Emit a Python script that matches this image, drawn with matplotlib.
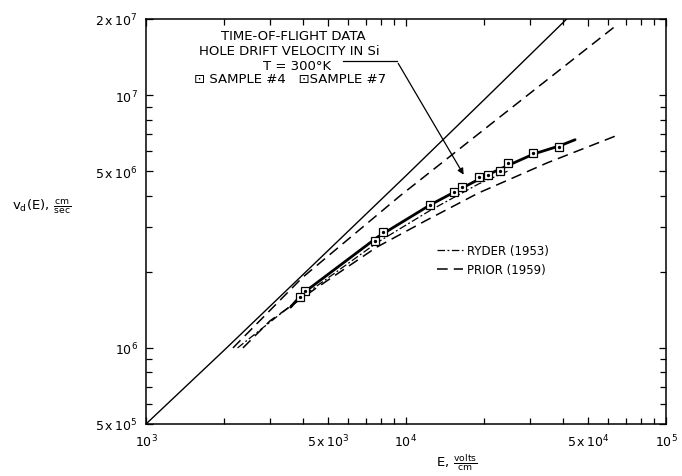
import matplotlib
matplotlib.use("Agg")
import matplotlib.pyplot as plt
from matplotlib.ticker import FixedLocator, NullFormatter, LogLocator

# ---------------- data ----------------
# ohmic (low-field) line
ohmic_E = [1.0e3, 2.0e3, 5.0e3, 1.0e4, 2.0e4, 4.15e4]
ohmic_v = [5.0e5, 0.98e6, 2.42e6, 4.8e6, 9.6e6, 2.0e7]

# upper dashed curve
upper_E = [2.16e3, 4.0e3, 9.5e3, 2.23e4, 6.37e4]
upper_v = [1.0e6, 1.9e6, 4.0e6, 8.0e6, 1.87e7]

# Prior (1959), lower dashed curve
prior_E = [2.36e3, 3.0e3, 4.5e3, 7.7e3, 1.2e4, 1.9e4, 3.5e4, 6.42e4]
prior_v = [1.0e6, 1.28e6, 1.72e6, 2.5e6, 3.2e6, 4.1e6, 5.4e6, 6.9e6]

# Ryder (1953), dash-dot curve
ryder_E = [2.25e3, 4.0e3, 7.7e3, 1.24e4, 1.9e4, 2.51e4]
ryder_v = [1.0e6, 1.6e6, 2.6e6, 3.5e6, 4.45e6, 5.05e6]

# time-of-flight fit line (thick)
fit_E = [3.6e3, 4.0e3, 7.8e3, 1.24e4, 1.65e4, 2.07e4, 2.5e4, 3.1e4, 3.9e4, 4.47e4]
fit_v = [1.45e6, 1.64e6, 2.75e6, 3.68e6, 4.3e6, 4.85e6, 5.3e6, 5.85e6, 6.3e6, 6.66e6]

# measured points
s4_E = [4.09e3, 8.18e3, 1.236e4, 1.53e4, 1.91e4, 2.475e4, 3.09e4]
s4_v = [1.683e6, 2.865e6, 3.68e6, 4.15e6, 4.74e6, 5.40e6, 5.90e6]
s7_E = [3.91e3, 7.60e3, 1.648e4, 2.07e4, 2.30e4, 3.87e4]
s7_v = [1.585e6, 2.64e6, 4.32e6, 4.84e6, 4.99e6, 6.22e6]

# annotation leader (from the caption to the data)
leader_E = [5.73e3, 9.22e3]
leader_v = [1.364e7, 1.364e7]
arrow_tip = (1.687e4, 4.74e6)

x_ticks = [1e3, 5e3, 1e4, 5e4, 1e5]
x_ticklabels = [r'$10^3$', r'$5\,\mathrm{x}\,10^3$', r'$10^4$', r'$5\,\mathrm{x}\,10^4$', r'$10^5$']
y_ticks = [5e5, 1e6, 5e6, 1e7, 2e7]
y_ticklabels = [r'$5\,\mathrm{x}\,10^5$', r'$10^6$', r'$5\,\mathrm{x}\,10^6$', r'$10^7$', r'$2\,\mathrm{x}\,10^7$']

caption = ["TIME-OF-FLIGHT DATA", "HOLE DRIFT VELOCITY IN Si", "T = 300\u00b0K",
           "\u22a1 SAMPLE #4   \u22a1SAMPLE #7"]

# ---------------- figure ----------------
W, H = 682, 477
fig = plt.figure(figsize=(W / 100, H / 100), dpi=100)
L, R, T, B = 146, 666, 20, 425
ax = fig.add_axes([L / W, 1 - B / H, (R - L) / W, (B - T) / H])
ax.set_xscale('log')
ax.set_yscale('log')
ax.set_xlim(1e3, 1e5)
ax.set_ylim(5e5, 2e7)

k = 'black'
ax.plot(ohmic_E, ohmic_v, color=k, lw=1.0)
ax.plot(upper_E, upper_v, color=k, lw=1.1, ls=(0, (7, 4)))
prior_line, = ax.plot(prior_E, prior_v, color=k, lw=1.1, ls=(0, (7, 4)))
ryder_line, = ax.plot(ryder_E, ryder_v, color=k, lw=0.9, ls=(0, (6, 2, 1.5, 2)))
ax.plot(fit_E, fit_v, color=k, lw=2.0, solid_capstyle='round')

for E, v in ((s4_E, s4_v), (s7_E, s7_v)):
    ax.plot(E, v, ls='none', marker='s', ms=6, mfc='white', mec=k, mew=0.9, zorder=5)
    ax.plot(E, v, ls='none', marker='o', ms=1.4, mfc=k, mec=k, zorder=6)

# leader line with arrow
ax.plot(leader_E, leader_v, color=k, lw=0.9)
ax.annotate('', xy=arrow_tip, xytext=(leader_E[-1], leader_v[-1]),
            arrowprops=dict(arrowstyle='-|>', color=k, lw=0.9, mutation_scale=9))

# caption text
cap_pos = [(0.283, 0.959), (0.275, 0.922), (0.290, 0.885), (0.277, 0.852)]
for txt, (xx, yy) in zip(caption, cap_pos):
    ax.text(xx, yy, txt, transform=ax.transAxes, ha='center', va='center',
            fontsize=9.5, color=k)

# legend
ax.legend([ryder_line, prior_line], ["RYDER (1953)", "PRIOR (1959)"],
          loc='upper left', bbox_to_anchor=(0.55, 0.455), frameon=False,
          fontsize=8.5, handlelength=2.2, handletextpad=0.4, labelspacing=0.45,
          borderaxespad=0)

# ticks
ax.xaxis.set_major_locator(FixedLocator(x_ticks))
ax.set_xticklabels(x_ticklabels)
ax.xaxis.set_minor_locator(LogLocator(base=10, subs=range(2, 10)))
ax.xaxis.set_minor_formatter(NullFormatter())
ax.yaxis.set_major_locator(FixedLocator(y_ticks))
ax.set_yticklabels(y_ticklabels)
ax.yaxis.set_minor_locator(LogLocator(base=10, subs=range(2, 10)))
ax.yaxis.set_minor_formatter(NullFormatter())
ax.tick_params(which='both', direction='in', top=True, right=True, width=0.9, color=k)
ax.tick_params(which='major', length=5, labelsize=9, pad=6)
ax.tick_params(which='minor', length=4)
for s in ax.spines.values():
    s.set_linewidth(1.1)

fig.text(12 / W, 1 - 207 / H, r'$\mathrm{v_d(E)},\,\frac{\mathrm{cm}}{\mathrm{sec}}$', fontsize=9.5,
         ha='left', va='center')
fig.text(457 / W, 1 - 463 / H, r'$\mathrm{E},\,\frac{\mathrm{volts}}{\mathrm{cm}}$', fontsize=9.5,
         ha='center', va='center')

fig.savefig('out.png', dpi=100)
